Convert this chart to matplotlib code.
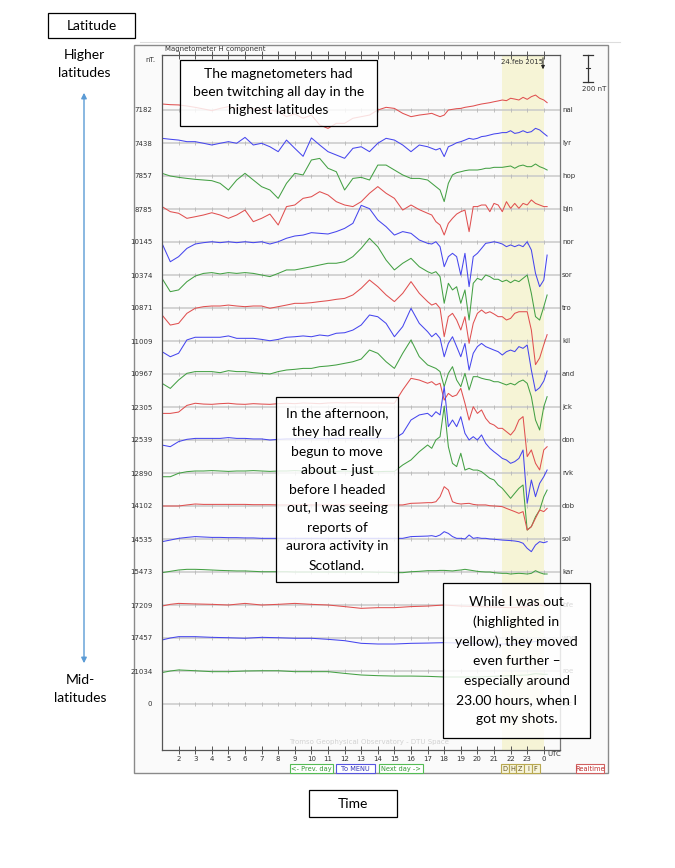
import matplotlib
matplotlib.use("Agg")
import matplotlib.pyplot as plt
from matplotlib.patches import Rectangle, FancyArrowPatch
import numpy as np

# ---------------- data ----------------
HOURS_A = [1, 1.5, 2, 2.5, 3, 3.5, 4, 4.5, 5, 5.5, 6, 6.5, 7, 7.5, 8, 8.5, 9, 9.5,
           10, 10.5, 11, 11.5, 12, 12.5, 13, 13.5, 14, 14.5, 15, 15.5, 16, 16.5, 17,
           17.25, 17.5, 17.75, 18, 18.25, 18.5, 18.75, 19, 19.25, 19.5, 19.75, 20,
           20.25, 20.5, 20.75, 21, 21.25, 21.5, 21.75, 22, 22.25, 22.5, 22.75, 23,
           23.25, 23.5, 23.75, 24, 24.2]
HOURS_Q = [1, 1.5, 2, 3, 4, 5, 6, 7, 8, 9, 10, 11, 12, 13, 14, 15, 16, 17, 18, 19,
           20, 21, 22, 23, 23.5, 24, 24.2]

STATIONS = ["nal", "lyr", "hop", "bjn", "nor", "sor", "tro", "kil", "and", "jck",
            "don", "rvk", "dob", "sol", "kar", "bfe", "wng", "roe", "tdc"]
BASE_LABELS = ["7182", "7438", "7857", "8785", "10145", "10374", "10871", "11009",
               "10967", "12305", "12539", "12890", "14102", "14535", "15473", "17209",
               "17457", "21034", "0"]

# deviations from baseline in nT
nal = [45, 40, 38, 30, 20, 8, -5, 12, 25, 12, 20, 10, 5, 0, -12, -50, -30, -62, -38, -112,
       -138, -100, -100, -62, -50, -38, 0, 20, 12, -25, -50, -38, -30,
       -25, -38, -50, -38, 0, 5, 10, 12, 20, 25, 30, 38, 45, 50, 55, 62, 68, 75, 70, 88,
       82, 75, 95, 80, 100, 112, 88, 75, 55]
lyr = [35, 28, 22, 10, 10, -2, -15, -2, 10, -2, 42, -15, -2, -28, -65, 22, -40, -100, 38, -15,
       -65, -90, -115, -40, -28, -65, -2, 35, 22, -15, -65, -15, -28,
       -40, -52, -40, -102, -28, -15, 2, 10, 22, 35, 28, 35, 48, 52, 60, 68, 72, 78, 78, 92,
       72, 78, 92, 78, 85, 110, 98, 72, 52]
hop = [20, 0, -10, -18, -25, -30, -35, -55, -105, -30, 20, -30, -80, -105, -168, -55, 20, 8, 120, 132,
       58, 32, -105, -18, -10, -30, 82, 82, 45, 8, -18, -18, -30,
       -55, -80, -105, -192, -55, 8, 25, 32, 40, 45, 45, 45, 50, 58, 58, 65, 65, 65, 70, 75,
       58, 75, 82, 70, 70, 90, 70, 58, 45]
bjn = [18, -20, -32, -70, -58, -45, -28, -45, -70, -45, -8, -95, -70, -38, -120, 18, 30, 80, 92, 130,
       105, 55, 30, 18, 55, 118, 168, 118, 80, -8, 30, -5, -32,
       -45, -95, -120, -195, -108, -70, -38, -20, -8, -170, 18, 18, 30, 30, -20, 42, 30, -20, 55, 5,
       42, 5, 42, 30, 68, 42, 30, 18, 18]
nor = [-10, -148, -110, -48, -15, -5, 2, -5, 2, -5, 2, -5, 2, -15, 2, 28, 45, 52, 70, 65,
       60, 78, 102, 140, 275, 250, 165, 115, 52, 78, 65, 15, -10,
       -15, 2, -35, -185, -110, -85, -110, -248, -85, -335, -110, -85, -48, -10, -5, 2, -5, -15, -35, -22,
       -35, -22, -35, 2, -60, -235, -335, -285, -98]
sor = [-25, -125, -112, -50, -8, 12, 18, 8, 18, 12, 18, 12, 0, -12, 12, 38, 38, 50, 62, 75,
       88, 88, 100, 138, 200, 275, 212, 112, 38, 88, 125, 62, 25,
       12, 25, -12, -212, -62, -112, -88, -212, -112, -338, -62, -25, -38, 0, -12, -32, -32, -50, -38, -58,
       -38, -50, -25, 0, -138, -312, -338, -238, -150]
tro = [-52, -128, -115, -40, -2, 10, 15, 15, 22, 15, 10, 15, 15, -2, 10, 22, 35, 35, 40, 48,
       55, 65, 72, 98, 148, 210, 160, 98, 48, 110, 198, 110, 48,
       22, 35, -2, -215, -65, -40, -90, -165, -65, -265, -115, -40, -15, -40, -28, -45, -65, -65, -90, -78,
       -40, -28, -28, -28, -165, -425, -375, -275, -200]
kil = [-80, -118, -92, 8, 28, 28, 28, 28, 38, 20, 20, 20, 12, 2, 12, 28, 32, 38, 32, 45,
       38, 58, 62, 82, 120, 195, 182, 132, 32, 108, 245, 132, 70,
       32, 58, 20, -118, -18, 32, -42, -118, -18, -218, -92, -42, -18, -42, -55, -68, -80, -105, -80, -68,
       -80, -42, -55, -30, -218, -375, -350, -300, -225]
and_ = [-70, -108, -45, 5, 18, 18, 18, 10, 25, 18, 18, 10, 5, 0, 18, 30, 35, 42, 42, 55,
        60, 68, 80, 92, 112, 180, 155, 92, 42, 155, 255, 130, 68,
        55, 42, 18, -95, 5, 55, -45, -95, 5, -120, -20, -20, -32, -40, -45, -58, -58, -70, -82, -70,
        -82, -58, -45, -70, -170, -345, -420, -245, -170]
jck = [-48, -48, -38, 12, 28, 22, 20, 25, 28, 22, 20, 25, 22, 20, 25, 28, 25, 30, 28, 25,
       30, 32, 30, 32, 30, 30, 30, 30, 28, 128, 215, 202, 178,
       190, 165, 178, 52, 102, 78, 90, 140, 28, -98, 2, -48, -22, -85, -122, -135, -160, -160, -185, -210,
       -172, -98, -72, -372, -322, -422, -472, -322, -298]
don = [-38, -50, -12, 5, 12, 12, 12, 12, 18, 12, 12, 8, 8, 0, 5, 8, 8, 10, 10, 10,
       10, 12, 12, 12, 12, 12, 12, 12, 12, 50, 150, 188, 200,
       175, 212, 188, 400, 100, 150, 100, 175, 50, 0, 25, 0, 38, -25, -62, -88, -112, -138, -150, -175,
       -162, -138, -75, -475, -300, -425, -325, -275, -225]
rvk = [-28, -28, -2, 10, 15, 15, 18, 15, 12, 15, 15, 18, 15, 12, 15, 15, 18, 15, 15, 12,
       12, 12, 15, 12, 12, 12, 10, 12, 12, 60, 98, 160, 210,
       185, 248, 272, 500, 198, 72, 48, 148, 22, 35, 22, 22, 10, -15, -40, -52, -90, -115, -152, -190,
       -152, -115, -90, -428, -402, -328, -278, -178, -128]
dob = [0, 0, 0, 8, 15, 12, 12, 12, 12, 12, 12, 10, 10, 10, 8, 8, 8, 8, 8, 8,
       8, 8, 8, 8, 8, 8, 8, 8, 8, 8, 20, 22, 25,
       25, 32, 70, 145, 120, 32, 20, 15, 18, 20, 12, 8, 8, 8, 2, 0, -2, -5, -18, -30,
       -42, -55, -42, -180, -155, -92, -30, -42, -18]
sol = [-20, -8, 5, 12, 18, 15, 12, 12, 10, 10, 8, 8, 5, 5, 5, 5, 5, 5, 5, 5,
       5, 5, 5, 5, 5, 5, 5, 5, 5, 5, 18, 20, 22,
       25, 18, 30, 55, 42, 18, 5, 5, 0, 30, 5, 10, 5, 5, 0, -2, -5, -8, -10, -12,
       -15, -20, -32, -70, -95, -45, -20, -28, -20]
kar = [-5, 5, 15, 20, 20, 18, 15, 12, 10, 8, 8, 5, 2, 2, 2, 2, 0, 0, 0, 0,
       0, 0, 0, 0, 0, 0, -2, -2, -5, -5, 2, 5, 10,
       10, 10, 12, 12, 10, 8, 12, 15, 20, 15, 10, 5, 2, 0, 0, -5, -8, -10, -10, -15,
       -12, -10, -12, -15, -10, 10, -5, -15, -15]
bfe = [-8, 5, 12, 8, 5, 0, 12, 0, 5, 12, 5, 0, -12, -25, -20, -20, -12, -8, 0, -8,
       -12, -15, -20, -12, 12, -8, -5]
wng = [-15, 0, 10, 10, 5, 2, -2, 5, 2, -2, -2, -10, -20, -40, -45, -45, -40, -38, -35, -38,
       -40, -45, -45, -38, -25, -38, -38]
roe = [-12, 0, 8, 2, -5, -5, 0, 2, 2, -5, -5, -5, -18, -30, -35, -38, -38, -40, -45, -45,
       -45, -40, -35, -30, -20, -25, -25]

SERIES = [(HOURS_A, nal), (HOURS_A, lyr), (HOURS_A, hop), (HOURS_A, bjn), (HOURS_A, nor),
          (HOURS_A, sor), (HOURS_A, tro), (HOURS_A, kil), (HOURS_A, and_), (HOURS_A, jck),
          (HOURS_A, don), (HOURS_A, rvk), (HOURS_A, dob), (HOURS_A, sol), (HOURS_A, kar),
          (HOURS_Q, bfe), (HOURS_Q, wng), (HOURS_Q, roe)]
for h, v in SERIES:
    assert len(h) == len(v), (len(h), len(v))

HOUR_TICKS = list(range(2, 25))
HOUR_LABELS = [str(h % 24) for h in HOUR_TICKS]
HIGHLIGHT = (21.5, 24.0)
SCALE_NT = 200

# ---------------- layout ----------------
W, H = 675, 868
PX_H = 16.6          # pixels per hour
NT_PX = 7.5          # nT per pixel
SPACING = 33 * NT_PX
RED, BLUE, GREEN = "#e05050", "#4646ee", "#44a044"
COLORS = [RED, BLUE, GREEN]

fig = plt.figure(figsize=(W / 100, H / 100), dpi=100)
fig.patch.set_facecolor("white")

# background panel
bg = fig.add_axes([0, 0, 1, 1], zorder=0)
bg.set_xlim(0, W); bg.set_ylim(H, 0); bg.axis("off")
bg.plot([140, 620], [42, 42], color="#dddddd", lw=0.8)
bg.add_patch(Rectangle((134, 45), 474, 728, facecolor="#fafafa", edgecolor="#8a8a8a", lw=1.0))

# main axes
L, R, T, B = 162, 560, 55, 750
ax = fig.add_axes([L / W, 1 - B / H, (R - L) / W, (B - T) / H], zorder=1)
ax.set_facecolor("none")
x0, x1 = 1, 1 + (R - L) / PX_H
ax.set_xlim(x0, x1)
ytop = (110 - T) * NT_PX
ybot = -(B - 110) * NT_PX
ax.set_ylim(ybot, ytop)

ax.axvspan(*HIGHLIGHT, color="#f6f4d6", zorder=0.2, lw=0)

bases = [-k * SPACING for k in range(len(STATIONS))]
ax.hlines(bases, x0, x1, color="#c9c9c9", lw=1.1, zorder=0.5)
for b in bases:
    ax.vlines(HOUR_TICKS, b - 14, b + 14, color="#b8b8b8", lw=0.6, zorder=0.5)

for k, (h, v) in enumerate(SERIES):
    y = bases[k] + np.asarray(v, dtype=float)
    ax.plot(h, y, color=COLORS[k % 3], lw=0.75, zorder=2)

# axes styling
for s in ax.spines.values():
    s.set_color("#555555"); s.set_linewidth(0.9)
ax.spines["right"].set_color("#777777")
ax.set_xticks(HOUR_TICKS, HOUR_LABELS)
ax.tick_params(axis="x", direction="inout", length=6, width=0.7, color="#555555",
               labelsize=5, labelcolor="#333333", pad=1, top=True)
ax.set_yticks(bases, BASE_LABELS)
ax.tick_params(axis="y", length=0, labelsize=5, labelcolor="#333333", pad=7)
for k, code in enumerate(STATIONS):
    ax.text(x1 + 2 / PX_H, bases[k], code, fontsize=5, color="#333333",
            va="center", ha="left", clip_on=False)

# scale bar (in data units)
sx = 1 + (588 - L) / PX_H
cap = 5 / PX_H
ax.plot([sx, sx], [ytop, ytop - SCALE_NT], color="#333333", lw=0.9, clip_on=False)
for yy in (ytop, ytop - SCALE_NT):
    ax.plot([sx - cap, sx + cap], [yy, yy], color="#333333", lw=0.9, clip_on=False)
ax.plot([sx - 2 / PX_H, sx + 2 / PX_H], [ytop - SCALE_NT / 2] * 2, color="#333333",
        lw=0.8, clip_on=False)
ax.text(sx - 6 / PX_H, ytop - SCALE_NT - 4 * NT_PX, f"{SCALE_NT} nT", fontsize=5,
        color="#333333", ha="left", va="top", clip_on=False)

# ---------------- overlay ----------------
ov = fig.add_axes([0, 0, 1, 1], zorder=3)
ov.set_xlim(0, W); ov.set_ylim(H, 0); ov.axis("off")
ov.patch.set_alpha(0)

small = dict(fontsize=5, color="#333333")
ov.text(165, 52, "Magnetometer H component", ha="left", va="bottom", **small)
ov.text(150, 60, "nT.", ha="center", va="center", **small)
ov.text(522, 62, "24.feb 2015", ha="center", va="center", **small)
ov.annotate("", xy=(543, 72), xytext=(543, 55),
            arrowprops=dict(arrowstyle="-|>", color="#222222", lw=0.7,
                            mutation_scale=5))
ov.text(554, 754, "UTC", ha="center", va="center", **small)
ov.text(369, 742, "Tromso Geophysical Observatory - DTU Space", ha="center",
        va="center", fontsize=5, color="#d2d2d2")

buttons = [("<- Prev. day", 290, 333, "#55bb55", "#339933"),
           ("To MENU", 336, 375, "#5555dd", "#3333bb"),
           ("Next day ->", 379, 423, "#55bb55", "#339933"),
           ("Realtime", 576, 604, "#d06060", "#c03030")]
for txt, xa, xb, ec, tc in buttons:
    ov.add_patch(Rectangle((xa, 764), xb - xa, 9, facecolor="white", edgecolor=ec, lw=0.8))
    ov.text((xa + xb) / 2, 768.7, txt, ha="center", va="center", fontsize=4.8, color=tc)
for i, ch in enumerate("DHZIF"):
    xa = 501 + i * 7.7
    ov.add_patch(Rectangle((xa, 764), 7.7, 9, facecolor="#f7f5dc", edgecolor="#b8a850", lw=0.8))
    ov.text(xa + 3.85, 768.7, ch, ha="center", va="center", fontsize=4.8, color="#665522")

# annotation boxes
FONT = ["Lato", "DejaVu Sans"]
FS = 10
def box(xa, ya, xb, yb, text, ls=1.3, alpha=0.82, dy=0):
    ov.add_patch(Rectangle((xa, ya), xb - xa, yb - ya, facecolor=(1, 1, 1, alpha),
                           edgecolor="black", lw=0.9))
    ov.text((xa + xb) / 2, (ya + yb) / 2 + dy, text, ha="center", va="center",
            fontsize=FS, family=FONT, linespacing=ls, color="black")

box(48, 13, 135, 38, "Latitude", alpha=1)
box(309, 790, 397, 817, "Time", alpha=1)
box(180, 60, 377, 126, "The magnetometers had\nbeen twitching all day in the\nhighest latitudes",
    ls=1.62, dy=-1)
box(276, 397, 398, 582, "In the afternoon,\nthey had really\nbegun to move\nabout \u2013 just\n"
    "before I headed\nout, I was seeing\nreports of\naurora activity in\nScotland.", ls=1.7)
box(443, 583, 590, 738, "While I was out\n(highlighted in\nyellow), they moved\neven further \u2013\n"
    "especially around\n23.00 hours, when I\ngot my shots.", ls=1.72)

ov.text(84, 64, "Higher\nlatitudes", ha="center", va="center", fontsize=FS,
        family=FONT, linespacing=1.6)
ov.text(80, 689, "Mid-\nlatitudes", ha="center", va="center", fontsize=FS,
        family=FONT, linespacing=1.6)
ov.add_patch(FancyArrowPatch((84, 90), (84, 666), arrowstyle="<|-|>", mutation_scale=8,
                             color="#5b9bd5", lw=1.0))

fig.savefig("out.png", dpi=100)
